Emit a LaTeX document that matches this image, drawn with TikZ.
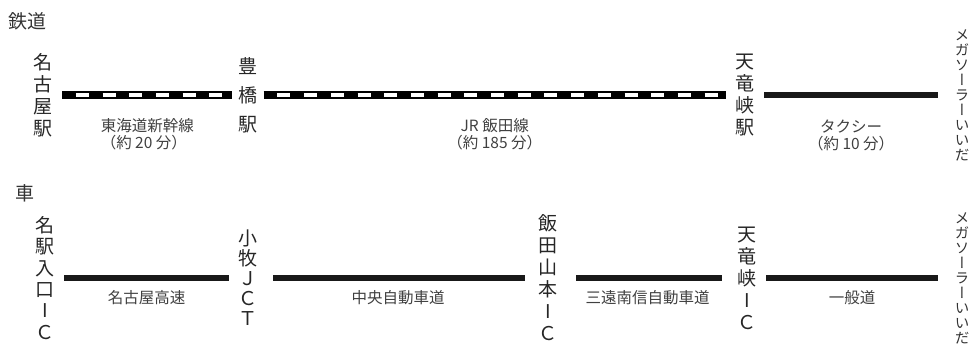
\documentclass[tikz,border=0pt]{standalone}
\usepackage{fontspec}
\newfontfamily\jp{Noto Sans CJK JP}
\newfontfamily\jpv[RawFeature=+vert]{Noto Sans CJK JP}
\usepackage{tikz}
\usetikzlibrary{positioning}

\begin{document}
\begin{tikzpicture}[x=1pt,y=-1pt,
    ttl/.style={font=\jp\fontsize{19}{22}\selectfont,text=black!80,inner sep=0pt},
    stn/.style={font=\jpv\fontsize{19}{#1}\selectfont,align=center,text=black!85,inner xsep=9.5pt,inner ysep=0pt},
    stn/.default=22,
    mega/.style={font=\jpv\fontsize{14.5}{15}\selectfont,align=center,text=black!80,inner xsep=16.5pt,inner ysep=0pt},
    lbl/.style={font=\jp\fontsize{15.5}{17}\selectfont,text=black!75,inner sep=0pt,align=center},
    rail/.style={line width=8pt,black,postaction={draw=white,line width=3.5pt,dash pattern=on 13pt off 13.7pt,dash phase=13pt}},
    road/.style={line width=6pt,black!90}]
    \useasboundingbox (0,0) rectangle (970,347);
    \node[ttl] (tetsudo) at (28,21) {鉄道};
    \node[stn] (nagoya) at (43,95) {名\\古\\屋\\駅};
    \node[stn=29,inner xsep=6pt] (toyohashi) at (248,95) {豊\\橋\\駅};
    \node[stn] (tenryukyo) at (745,95) {天\\竜\\峡\\駅};
    \node[mega] (mega1) at (962,95) {メ\\ガ\\ソ\\ー\\ラ\\ー\\い\\い\\だ};
    \draw[rail] (nagoya) -- (toyohashi)
      node[lbl,midway,below=19pt,align=left] (shinkansen) {東海道新幹線\\（約 20 分）};
    \draw[rail] (toyohashi) -- (tenryukyo)
      node[lbl,midway,below=19pt] (iidasen) {JR 飯田線\\（約 185 分）};
    \draw[road] (tenryukyo) -- (mega1)
      node[lbl,midway,below=22pt] (taxi) {タクシー\\（約 10 分）};
    \node[ttl] (kuruma) at (25,193) {車};
    \node[stn=21.4] (meieki) at (45,278) {名\\駅\\入\\口\\I\\Ｃ};
    \node[stn=20] (komaki) at (248,278) {小\\牧\\Ｊ\\Ｃ\\Ｔ};
    \node[stn] (iida) at (548,278) {飯\\田\\山\\本\\I\\Ｃ};
    \node[stn] (tenryukyoic) at (747,278) {天\\竜\\峡\\I\\Ｃ};
    \node[mega] (mega2) at (962,278) {メ\\ガ\\ソ\\ー\\ラ\\ー\\い\\い\\だ};
    \draw[road] (meieki) -- (komaki)
      node[lbl,midway,below=9pt] (nagoyakosoku) {名古屋高速};
    \draw[road,shorten <=6pt,shorten >=4pt] (komaki) -- (iida)
      node[lbl,midway,below=9pt] (chuo) {中央自動車道};
    \draw[road,shorten <=9pt,shorten >=6pt] (iida) -- (tenryukyoic)
      node[lbl,midway,below=9pt] (sanen) {三遠南信自動車道};
    \draw[road] (tenryukyoic) -- (mega2)
      node[lbl,midway,below=9pt] (ippando) {一般道};
\end{tikzpicture}
\end{document}
